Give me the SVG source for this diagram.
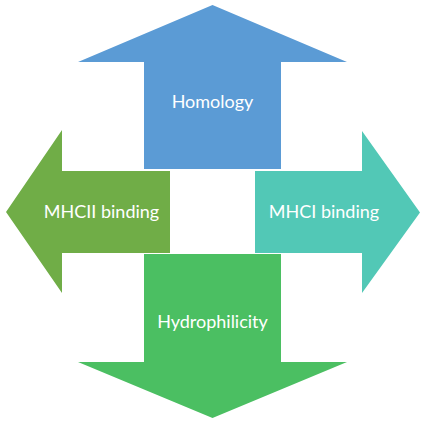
<svg xmlns="http://www.w3.org/2000/svg" width="425" height="423" viewBox="0 0 425 423">
<style>
.lbl{font-family:Lato,"Open Sans","Liberation Sans",sans-serif;font-size:18px;fill:#ffffff;text-anchor:middle}
</style>
<rect width="425" height="423" fill="#ffffff"/>
<g id="homology">
<polygon points="212.5,5 347,62 281,62 281,169 144,169 144,62 78,62" fill="#5B9BD5"/>
<text class="lbl" x="212.5" y="108">Homology</text>
</g>
<g id="mhcii">
<polygon points="6,212 62,130 62,171 170,171 170,253 62,253 62,293" fill="#70AD47"/>
<text class="lbl" x="101.5" y="218">MHCII binding</text>
</g>
<g id="mhci">
<polygon points="420,212.5 362,131 362,171 255,171 255,253 362,253 362,293" fill="#52C8B6"/>
<text class="lbl" x="324" y="218">MHCI binding</text>
</g>
<g id="hydrophilicity">
<polygon points="144,254 281,254 281,362 347,362 212.5,418 78,362 144,362" fill="#4BBF62"/>
<text class="lbl" x="212.5" y="328">Hydrophilicity</text>
</g>
<g id="connectors"></g>
</svg>
